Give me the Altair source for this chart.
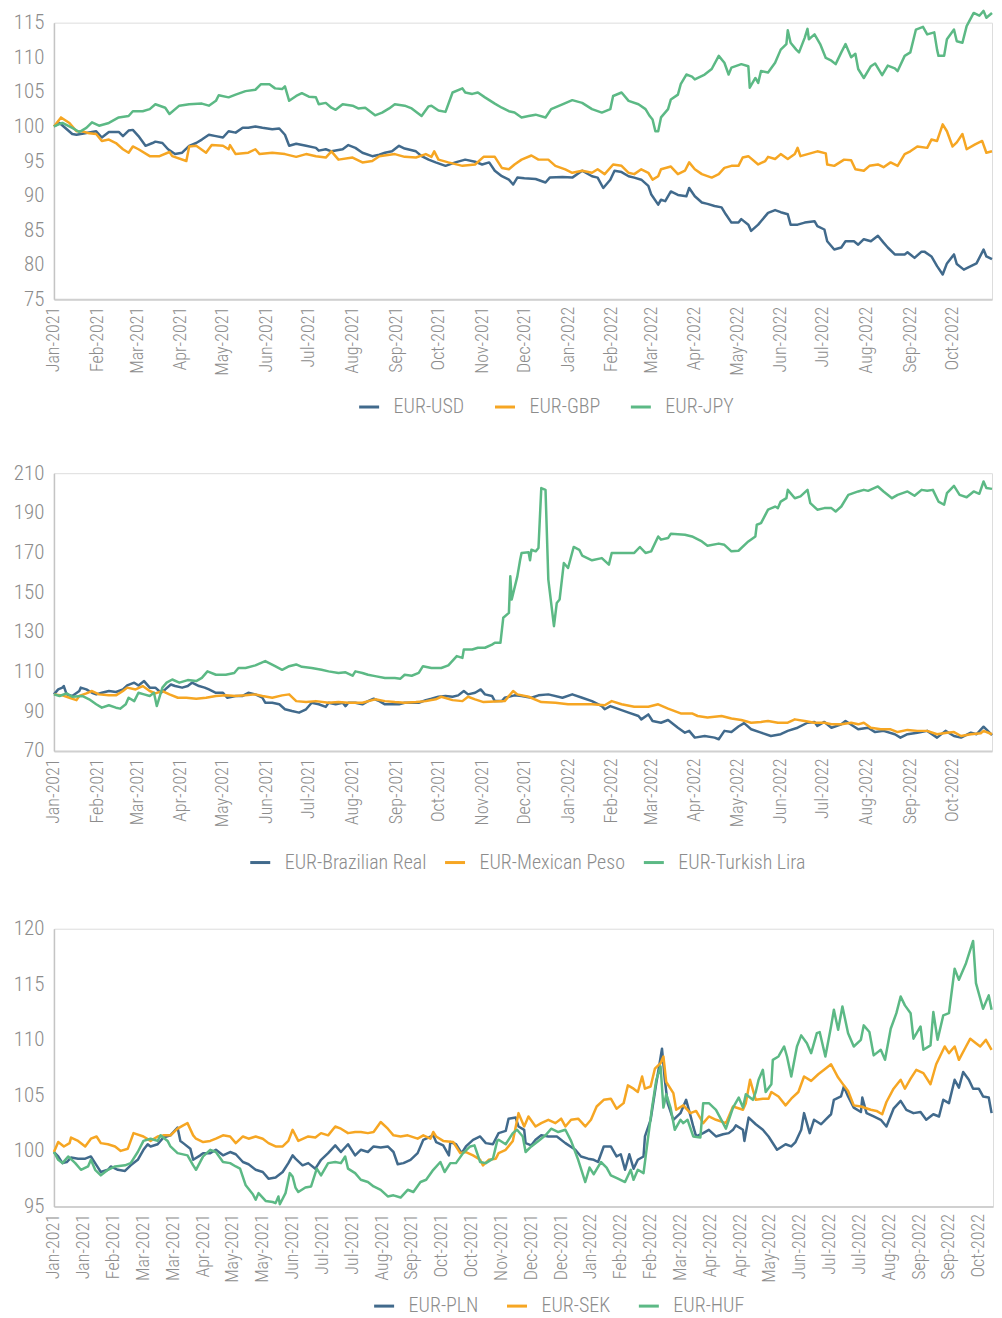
import altair as alt
import pandas as pd

# ---------------- data (day offset since 2021-01-01, index value) ----------------
BASE = "2021-01-01"

USD = [(0,100),(4,100.5),(13,98.9),(16,98.8),(30,99.3),(34,98.4),(39,99.2),(46,99.2),(49,98.6),(53,99.4),(56,99.5),(60,98.6),(65,97.2),(70,97.6),(72,97.8),(77,97.6),(81,96.7),(86,96.0),(91,96.2),(96,97.2),(101,97.6),(105,98.1),(110,98.8),(115,98.6),(120,98.4),(124,99.3),(129,99.1),(134,99.8),(138,99.8),(143,100.0),(148,99.8),(155,99.6),(160,99.7),(164,98.8),(167,97.2),(172,97.5),(179,97.2),(186,96.9),(188,96.5),(193,96.7),(197,96.4),(205,96.7),(209,97.3),(214,96.9),(219,96.2),(226,95.7),(231,95.9),(235,96.2),(240,96.4),(245,97.2),(249,96.8),(257,96.4),(261,95.7),(266,95.2),(271,94.8),(278,94.3),(285,94.8),(292,95.2),(299,94.9),(304,94.5),(309,94.8),(313,93.6),(318,92.8),(323,92.3),(326,91.6),(329,92.6),(334,92.5),(342,92.4),(349,91.9),(352,92.6),(361,92.7),(368,92.6),(375,93.6),(382,92.8),(386,92.6),(390,91.1),(395,92.3),(398,93.6),(403,93.4),(408,92.8),(412,92.6),(417,92.3),(422,91.4),(424,90.2),(429,88.7),(431,89.4),(434,89.2),(438,90.6),(443,90.1),(449,89.9),(451,91.1),(455,89.9),(460,89.0),(464,88.8),(469,88.5),(474,88.3),(477,87.3),(481,86.1),(486,86.1),(488,86.6),(493,85.8),(495,84.9),(500,85.8),(502,86.3),(507,87.5),(512,87.9),(516,87.6),(521,87.3),(523,85.8),(528,85.8),(533,86.1),(540,86.3),(542,85.6),(547,85.1),(549,83.4),(554,82.2),(559,82.5),(562,83.4),(568,83.4),(571,82.9),(575,83.7),(580,83.4),(585,84.2),(589,83.2),(592,82.5),(597,81.5),(604,81.5),(606,81.8),(611,81.0),(616,81.9),(618,81.9),(623,81.2),(627,79.8),(631,78.6),(634,80.2),(639,81.5),(641,80.1),(646,79.3),(651,79.8),(655,80.2),(660,82.2),(662,81.2),(666,80.8)]

GBP = [(0,100),(5,101.3),(11,100.5),(16,99.3),(20,99.3),(25,99.0),(30,98.9),(34,97.9),(39,98.1),(44,97.6),(49,96.7),(53,96.2),(56,97.1),(60,96.7),(68,95.7),(75,95.7),(82,96.3),(84,95.7),(94,95.0),(96,97.1),(101,97.2),(108,96.2),(112,97.3),(120,97.2),(124,96.7),(125,97.3),(129,96.0),(138,96.2),(143,96.7),(146,96.0),(155,96.2),(164,96.0),(172,95.6),(179,96.0),(186,95.7),(193,95.5),(197,96.4),(202,95.2),(212,95.5),(219,94.8),(226,95.0),(231,95.7),(242,96.0),(249,95.6),(257,95.5),(264,96.0),(268,95.6),(270,96.4),(273,95.2),(280,94.8),(290,94.3),(299,94.5),(305,95.6),(313,95.6),(318,94.0),(323,93.8),(327,94.5),(332,95.2),(339,95.8),(344,95.2),(351,95.2),(356,94.3),(363,93.8),(368,93.3),(375,93.6),(382,93.3),(386,93.8),(391,93.1),(397,94.5),(403,94.3),(408,93.3),(412,93.1),(417,93.8),(422,93.3),(425,92.3),(429,92.8),(431,93.8),(438,94.2),(443,93.1),(448,93.6),(451,94.8),(455,93.8),(460,93.1),(467,92.6),(472,93.1),(476,94.0),(481,94.3),(486,94.3),(489,95.5),(493,95.7),(500,94.5),(505,95.0),(507,95.6),(512,95.3),(516,96.0),(521,95.3),(526,96.0),(528,96.9),(530,95.7),(537,96.1),(542,96.4),(548,96.1),(549,94.5),(554,94.3),(561,95.2),(566,95.1),(569,93.8),(575,93.6),(579,94.3),(585,94.5),(589,94.1),(594,94.8),(599,94.3),(604,96.0),(608,96.4),(613,97.1),(620,96.9),(623,98.1),(627,97.9),(631,100.3),(634,99.3),(638,97.1),(641,97.7),(645,98.9),(648,96.7),(654,97.4),(659,97.9),(662,96.2),(666,96.4)]

JPY = [(0,100),(6,100.5),(13,99.8),(18,99.2),(23,99.8),(27,100.6),(32,100.1),(39,100.5),(46,101.3),(53,101.5),(56,102.2),(63,102.2),(68,102.5),(72,103.2),(79,102.7),(82,101.8),(89,103.0),(96,103.2),(105,103.3),(110,103.0),(115,103.7),(117,104.5),(124,104.2),(129,104.6),(136,105.1),(143,105.3),(147,106.1),(153,106.1),(157,105.5),(162,105.4),(164,105.8),(167,103.7),(172,104.4),(176,104.8),(181,104.3),(186,104.2),(188,103.2),(193,103.4),(197,102.7),(200,102.4),(205,103.2),(212,103.0),(216,102.6),(221,102.7),(228,101.6),(233,102.0),(238,102.6),(242,103.2),(249,103.0),(254,102.6),(261,101.5),(266,102.9),(268,103.0),(273,102.3),(278,102.1),(283,104.9),(290,105.5),(292,104.9),(297,104.7),(301,104.9),(306,104.2),(313,103.3),(318,102.7),(323,102.2),(327,102.0),(332,101.3),(337,101.5),(342,101.7),(349,101.3),(353,102.5),(361,103.2),(368,103.8),(375,103.4),(382,102.5),(389,102.0),(395,102.5),(397,104.4),(403,104.9),(408,103.7),(415,103.2),(420,102.5),(423,101.5),(425,101.0),(427,99.3),(429,99.3),(431,101.3),(436,102.5),(438,103.9),(443,104.6),(445,106.1),(449,107.5),(453,107.2),(455,106.8),(462,107.5),(467,108.3),(472,110.2),(476,109.2),(479,107.5),(481,108.5),(488,109.0),(493,108.7),(494,105.6),(498,107.0),(500,106.3),(502,108.0),(507,107.8),(512,109.2),(516,111.1),(520,111.9),(521,113.9),(523,112.1),(527,111.1),(529,110.7),(533,112.8),(535,114.1),(536,112.6),(540,113.3),(544,111.9),(548,109.9),(552,109.5),(555,109.0),(559,110.7),(562,111.9),(566,110.0),(569,110.5),(571,108.3),(575,107.0),(580,108.7),(583,109.1),(588,107.4),(592,108.8),(597,108.4),(599,108.0),(604,110.2),(608,110.7),(612,114.0),(617,114.4),(620,113.3),(625,113.6),(627,111.1),(628,110.2),(632,110.2),(634,112.6),(639,114.0),(641,112.3),(645,112.1),(648,114.5),(653,116.4),(657,116.0),(660,116.7),(662,115.7),(666,116.4)]

BRL = [(0,98.5),(3,101.0),(6,101.9),(7,102.7),(9,98.5),(13,97.7),(18,100.2),(19,101.9),(23,101.0),(27,99.3),(30,98.5),(34,99.3),(39,100.2),(44,99.7),(49,101.0),(52,103.0),(57,104.4),(60,103.0),(64,105.2),(68,101.9),(72,101.9),(76,99.3),(79,101.0),(83,103.5),(86,102.7),(91,101.9),(95,102.7),(98,104.4),(103,102.7),(107,101.9),(110,101.0),(115,99.3),(120,99.3),(123,96.8),(129,97.7),(134,97.7),(138,99.3),(143,98.5),(148,96.8),(150,94.3),(155,94.3),(160,93.5),(164,91.0),(169,90.1),(174,89.3),(179,91.0),(183,94.3),(188,93.5),(193,92.2),(195,94.3),(200,93.5),(205,94.3),(207,92.6),(209,94.3),(214,94.3),(219,93.5),(223,95.1),(227,96.3),(231,95.1),(235,93.5),(240,93.5),(245,93.5),(249,94.3),(254,94.3),(259,94.3),(264,95.6),(268,96.3),(273,97.3),(278,97.7),(283,97.3),(287,98.0),(291,100.2),(294,98.5),(299,99.3),(303,101.0),(306,98.5),(311,97.7),(313,95.1),(318,95.1),(320,96.8),(327,98.0),(332,97.7),(339,96.8),(344,98.0),(351,98.5),(361,96.8),(368,98.5),(375,96.8),(382,95.1),(389,92.6),(391,91.0),(395,92.6),(408,89.3),(415,87.6),(417,85.9),(422,88.4),(425,85.1),(431,84.2),(436,85.6),(443,81.7),(448,79.2),(451,80.1),(455,76.7),(462,77.5),(469,76.7),(472,75.9),(476,80.1),(481,79.5),(486,82.3),(490,84.0),(495,80.9),(502,79.2),(509,77.5),(516,78.4),(521,80.1),(528,81.7),(535,84.2),(540,84.6),(542,82.6),(547,84.6),(552,81.7),(559,83.4),(562,85.1),(571,80.9),(578,81.7),(583,79.5),(589,80.1),(597,78.4),(601,76.7),(606,78.4),(613,79.2),(620,80.1),(627,76.7),(633,80.1),(639,77.5),(644,76.7),(651,79.2),(655,78.4),(660,82.2),(666,77.9)]

MXN = [(0,98.5),(6,98.0),(11,96.8),(16,95.6),(18,97.7),(23,99.0),(27,100.2),(32,98.5),(39,98.0),(44,98.0),(49,100.2),(52,101.9),(58,101.0),(63,102.7),(68,100.2),(72,99.0),(77,100.2),(82,98.5),(88,96.8),(94,96.8),(101,96.3),(108,96.8),(115,97.7),(122,98.0),(129,97.7),(136,98.0),(143,98.5),(148,97.7),(155,96.8),(162,98.0),(167,98.5),(172,95.1),(179,94.6),(186,95.1),(195,94.3),(202,94.6),(209,94.3),(219,94.3),(228,96.0),(235,95.1),(242,94.6),(249,94.3),(257,94.6),(264,95.1),(271,96.0),(275,97.3),(283,95.6),(290,95.1),(294,97.3),(299,96.0),(305,94.6),(313,94.9),(320,95.1),(326,100.2),(329,98.5),(337,97.3),(346,94.6),(356,94.3),(365,93.5),(375,93.5),(382,93.5),(391,93.0),(396,95.1),(403,93.5),(412,92.3),(422,92.3),(429,93.5),(436,91.3),(445,88.9),(453,88.9),(457,87.6),(464,86.8),(474,87.6),(481,86.3),(488,85.6),(495,84.2),(502,84.6),(507,85.1),(514,84.2),(521,84.2),(526,85.9),(533,85.1),(540,84.2),(547,84.2),(552,83.4),(559,83.4),(566,84.2),(571,83.4),(575,84.2),(580,81.7),(587,80.9),(594,80.9),(599,79.5),(606,80.6),(613,80.1),(620,80.1),(627,78.4),(634,79.2),(639,79.5),(644,77.5),(651,78.4),(658,78.9),(660,80.1),(666,78.4)]

TRY = [(0,98.5),(4,97.7),(9,99.0),(13,97.3),(20,97.7),(25,96.0),(30,93.5),(34,91.8),(39,93.0),(44,91.8),(47,91.3),(51,93.5),(53,96.8),(57,95.1),(60,99.3),(64,98.5),(68,97.7),(71,99.3),(73,92.6),(77,101.9),(80,104.4),(84,106.0),(89,104.4),(95,105.7),(101,105.2),(105,106.8),(109,110.1),(115,108.4),(122,108.4),(128,109.3),(131,111.8),(136,111.8),(143,113.1),(150,115.3),(157,112.7),(162,110.9),(167,112.7),(172,113.6),(176,112.4),(183,111.8),(190,110.9),(195,110.1),(202,109.3),(207,109.6),(212,107.9),(214,110.1),(219,109.3),(223,108.4),(228,107.7),(235,106.8),(242,106.8),(246,106.4),(249,108.4),(254,107.9),(259,109.3),(262,112.7),(268,111.8),(275,111.8),(280,113.1),(286,117.8),(290,116.9),(291,121.1),(297,121.1),(301,122.0),(306,122.0),(311,123.6),(313,124.5),(317,124.5),(319,137.1),(323,139.6),(324,158.0),(325,146.3),(329,158.0),(331,166.4),(332,169.8),(337,170.1),(338,166.1),(339,171.4),(342,170.6),(344,172.3),(346,202.5),(349,201.6),(351,156.3),(355,132.9),(357,144.6),(359,146.3),(362,164.7),(365,162.2),(369,172.8),(373,171.4),(375,168.5),(382,166.1),(389,167.2),(394,163.9),(396,169.8),(403,169.8),(412,169.8),(416,172.8),(420,169.8),(424,170.6),(429,178.1),(431,176.5),(436,177.3),(438,179.5),(448,179.0),(453,178.1),(460,175.6),(464,173.4),(472,174.5),(476,173.9),(481,170.6),(486,170.9),(493,175.6),(498,178.1),(499,184.0),(502,184.8),(507,191.6),(512,193.2),(514,192.4),(516,195.7),(520,197.4),(521,201.6),(526,197.4),(530,198.3),(535,201.6),(537,194.9),(542,191.6),(547,192.4),(552,192.4),(555,190.7),(559,193.2),(564,199.1),(571,200.8),(575,201.6),(578,201.1),(585,203.3),(589,200.8),(595,197.4),(599,199.1),(606,200.8),(611,198.6),(616,201.6),(620,201.1),(624,201.6),(628,195.7),(632,194.1),(634,199.9),(639,203.6),(643,199.1),(648,197.9),(653,200.8),(657,199.6),(660,205.8),(662,202.5),(666,202.1)]

PLN = [(0,99.9),(3,99.5),(6,98.9),(9,99.0),(12,99.4),(17,99.3),(22,99.3),(26,99.5),(30,98.7),(33,98.1),(38,98.3),(40,98.6),(45,98.3),(50,98.2),(54,98.7),(59,99.2),(63,100.1),(66,100.6),(68,100.4),(73,100.6),(77,101.2),(82,101.4),(87,102.1),(89,100.9),(91,100.7),(96,100.2),(98,99.2),(103,99.6),(105,99.8),(110,99.8),(114,100.1),(119,99.6),(124,99.9),(128,99.7),(133,99.0),(137,98.8),(142,98.3),(147,98.1),(151,97.5),(156,97.6),(161,98.1),(165,98.9),(168,99.6),(170,99.3),(175,98.7),(179,98.9),(184,98.4),(188,99.2),(193,99.8),(198,100.5),(202,99.9),(207,100.6),(212,99.6),(216,100.1),(221,99.9),(225,100.4),(230,100.3),(235,100.4),(239,99.9),(242,98.8),(246,98.9),(251,99.2),(256,99.8),(260,101.0),(267,101.4),(269,100.8),(274,100.5),(278,99.6),(279,100.8),(283,100.6),(287,99.8),(290,100.4),(295,101.0),(300,101.3),(304,100.7),(309,100.6),(313,101.6),(318,101.8),(320,102.9),(325,103.0),(327,102.2),(331,101.9),(332,100.7),(336,100.5),(339,101.0),(343,101.4),(348,101.3),(354,101.3),(360,100.7),(367,100.1),(371,99.5),(376,99.3),(380,99.2),(383,99.0),(387,100.4),(392,100.4),(396,99.5),(399,99.7),(402,98.3),(405,99.7),(408,98.4),(411,99.2),(415,99.5),(416,101.3),(420,102.8),(424,106.1),(428,109.2),(430,106.4),(432,104.3),(436,102.8),(441,103.4),(445,104.6),(448,103.2),(450,102.2),(452,101.3),(457,101.6),(461,101.9),(466,101.3),(471,101.5),(475,101.6),(478,101.9),(480,102.3),(485,101.9),(486,100.9),(489,103.0),(494,102.4),(499,101.9),(503,101.3),(509,100.1),(515,100.6),(519,100.4),(522,100.8),(526,101.9),(528,103.4),(532,101.6),(535,102.8),(540,102.4),(543,102.8),(547,103.3),(549,104.6),(554,104.9),(556,105.8),(559,104.9),(563,103.9),(568,103.5),(569,104.8),(572,103.4),(577,103.1),(582,102.8),(586,102.2),(591,103.8),(596,104.5),(600,103.7),(605,103.4),(610,103.5),(614,102.8),(619,103.3),(623,103.1),(626,104.6),(630,104.3),(634,106.4),(637,105.7),(640,107.1),(644,106.4),(647,105.6),(651,105.6),(654,104.9),(658,104.8),(660,103.4)]

SEK = [(0,99.9),(3,100.8),(7,100.4),(11,100.7),(12,101.2),(17,100.9),(22,100.4),(26,101.1),(30,101.3),(33,100.7),(38,100.6),(43,100.4),(47,100.0),(52,100.2),(56,101.6),(63,101.3),(68,100.9),(73,101.3),(77,101.4),(82,101.4),(87,102.0),(91,102.3),(94,102.5),(98,101.4),(100,101.1),(105,100.8),(110,100.9),(114,101.1),(119,101.4),(124,101.3),(128,100.7),(133,101.3),(137,101.1),(142,101.3),(147,101.1),(151,100.7),(156,100.4),(161,100.4),(165,100.9),(168,101.9),(172,100.9),(179,101.3),(184,101.2),(188,101.6),(193,101.4),(198,102.2),(202,102.0),(207,101.6),(212,101.7),(216,101.7),(221,101.6),(225,101.7),(230,102.6),(235,102.0),(239,101.4),(244,101.3),(249,101.4),(256,101.1),(260,101.4),(265,101.1),(267,101.7),(269,101.3),(274,100.9),(281,100.8),(286,99.8),(290,99.9),(295,99.6),(300,99.2),(302,98.7),(306,99.2),(311,99.3),(313,99.8),(318,100.1),(323,100.9),(327,103.4),(331,102.2),(334,103.1),(339,102.2),(343,102.5),(348,102.8),(353,102.5),(357,102.9),(360,102.2),(364,102.8),(369,102.9),(374,102.2),(378,102.8),(382,104.0),(387,104.6),(392,104.7),(396,103.8),(401,104.3),(404,105.9),(408,105.6),(411,105.3),(414,106.7),(416,105.6),(420,105.8),(423,107.4),(427,107.9),(429,108.5),(431,106.2),(436,105.2),(438,103.7),(443,104.1),(448,103.4),(452,103.6),(457,102.5),(461,103.1),(466,102.8),(473,102.5),(478,104.0),(485,103.7),(487,104.3),(490,106.4),(494,104.6),(499,104.7),(503,104.7),(505,105.3),(510,104.9),(515,104.1),(519,104.7),(524,105.3),(528,106.7),(533,106.3),(538,106.9),(543,107.4),(547,107.8),(552,106.6),(556,105.9),(559,105.4),(563,104.1),(568,104.0),(575,103.7),(579,103.6),(583,103.3),(586,104.4),(591,105.6),(596,106.4),(599,105.6),(603,106.5),(607,107.3),(612,107.0),(617,106.0),(621,107.8),(627,109.4),(630,108.8),(634,109.4),(637,108.2),(642,109.4),(645,110.1),(649,109.7),(652,109.4),(656,110.0),(660,109.1)]

HUF = [(0,99.9),(3,99.2),(6,98.9),(10,99.5),(15,98.9),(19,98.3),(24,98.6),(26,99.2),(29,98.3),(33,97.8),(38,98.3),(43,98.6),(50,98.7),(54,98.9),(59,99.9),(63,100.9),(68,101.1),(73,100.9),(75,101.4),(80,100.9),(82,100.4),(87,99.8),(94,99.6),(98,98.7),(100,98.3),(105,99.5),(110,100.1),(114,99.9),(119,99.0),(124,98.9),(128,98.6),(131,98.4),(135,96.9),(140,96.1),(142,95.6),(144,96.2),(149,95.5),(154,95.4),(156,95.3),(158,95.9),(159,95.2),(163,96.2),(166,98.0),(168,97.7),(170,96.7),(172,96.3),(177,96.7),(181,96.8),(185,98.4),(188,97.8),(193,98.9),(198,99.0),(202,98.9),(205,99.5),(207,98.4),(212,98.0),(216,97.4),(221,97.2),(225,96.8),(230,96.5),(235,95.9),(239,96.0),(244,95.8),(249,96.5),(253,96.3),(258,97.2),(262,97.4),(267,98.3),(272,99.0),(275,98.1),(279,98.9),(283,98.9),(288,99.8),(293,100.4),(296,100.5),(300,99.0),(304,98.9),(309,99.3),(312,100.9),(313,101.0),(318,100.6),(323,101.6),(326,101.9),(330,101.3),(332,99.9),(336,100.4),(341,100.9),(346,101.4),(350,102.0),(355,101.7),(360,101.9),(364,100.9),(369,99.2),(374,97.2),(377,98.5),(380,97.9),(385,99.0),(389,98.5),(392,97.8),(397,97.5),(402,97.2),(406,98.3),(408,97.4),(411,98.3),(415,98.0),(418,101.0),(421,103.9),(424,106.4),(427,107.6),(429,103.9),(431,105.1),(434,103.9),(437,101.9),(441,102.8),(443,102.5),(446,102.8),(450,101.3),(455,101.2),(457,104.3),(461,104.3),(466,103.7),(471,102.5),(473,102.0),(478,103.9),(482,104.8),(485,103.9),(487,105.1),(492,104.6),(494,105.3),(496,106.4),(499,107.3),(501,105.3),(505,106.0),(506,108.2),(510,108.5),(514,109.4),(516,108.5),(519,106.7),(523,109.4),(526,110.4),(530,109.7),(533,108.8),(537,110.6),(539,110.7),(543,108.5),(547,111.2),(549,112.7),(552,110.9),(555,113.0),(559,110.6),(563,109.4),(568,110.0),(570,111.3),(574,110.7),(577,108.6),(582,109.1),(585,108.2),(589,111.0),(593,112.4),(596,113.9),(599,113.1),(603,112.4),(605,110.1),(610,111.2),(612,109.1),(617,109.5),(619,112.5),(622,110.0),(626,112.2),(630,112.4),(634,116.4),(637,115.4),(642,116.9),(647,118.9),(649,115.1),(654,112.8),(658,114.0),(660,112.7)]

# tick labels
MONTH_TICKS = ["2021-01-01","2021-02-01","2021-03-01","2021-04-01","2021-05-01","2021-06-01",
               "2021-07-01","2021-08-01","2021-09-01","2021-10-01","2021-11-01","2021-12-01",
               "2022-01-01","2022-02-01","2022-03-01","2022-04-01","2022-05-01","2022-06-01",
               "2022-07-01","2022-08-01","2022-09-01","2022-10-01"]
CAT_TICKS = ["2021-01-01","2021-01-22","2021-02-12","2021-03-05","2021-03-26","2021-04-16",
             "2021-05-07","2021-05-28","2021-06-18","2021-07-09","2021-07-30","2021-08-20",
             "2021-09-10","2021-10-01","2021-10-22","2021-11-12","2021-12-03","2021-12-24",
             "2022-01-14","2022-02-04","2022-02-25","2022-03-18","2022-04-08","2022-04-29",
             "2022-05-20","2022-06-10","2022-07-01","2022-07-22","2022-08-12","2022-09-02",
             "2022-09-23","2022-10-14"]

COLORS = ["#416a8c", "#f6a623", "#5cb985"]
FONT = "Roboto Condensed, DejaVu Sans Condensed, Liberation Sans, sans-serif"
LABEL_COLOR = "#8c8c8c"
EXTENT = 45


def dt(s):
    y, m, d = (int(p) for p in s.split("-"))
    return alt.DateTime(year=y, month=m, date=d)


def frame(series):
    rows = []
    base = pd.Timestamp(BASE)
    for name, pts in series:
        for d, v in pts:
            rows.append({"date": base + pd.Timedelta(days=d), "value": v, "series": name})
    return pd.DataFrame(rows)


def panel(series, ydom, ystep, end, ticks, w, h, lx, ly, colpad):
    names = [n for n, _ in series]
    yvals = list(range(ydom[0], ydom[1] + 1, ystep))
    return alt.Chart(frame(series)).mark_line(strokeWidth=2.5, strokeJoin="round").encode(
        x=alt.X("date:T", title=None,
                scale=alt.Scale(domain=[dt(BASE), dt(end)]),
                axis=alt.Axis(values=[dt(t) for t in ticks], format="%b-%Y", labelAngle=-90,
                              labelFont=FONT, labelFontSize=18, labelFontWeight=300,
                              labelColor=LABEL_COLOR,
                              labelPadding=7, labelFlush=False, labelOverlap=False,
                              ticks=False, grid=False, domainColor="#d0d0d0", domainWidth=2)),
        y=alt.Y("value:Q", title=None,
                scale=alt.Scale(domain=ydom, nice=False, zero=False),
                axis=alt.Axis(values=yvals, labelFont=FONT, labelFontSize=21, labelFontWeight=300,
                              labelColor=LABEL_COLOR,
                              labelPadding=10, ticks=False, grid=False,
                              minExtent=EXTENT, maxExtent=EXTENT,
                              domainColor="#c4c4c4", domainWidth=1.5)),
        color=alt.Color("series:N", sort=names,
                        scale=alt.Scale(domain=names, range=COLORS),
                        legend=alt.Legend(orient="none", legendX=lx, legendY=ly, direction="horizontal",
                                          title=None, symbolType="stroke", symbolStrokeWidth=3,
                                          symbolSize=400, labelFont=FONT, labelFontSize=20,
                                          labelFontWeight=300, padding=0,
                                          labelColor=LABEL_COLOR, labelOffset=13, labelLimit=400,
                                          columnPadding=colpad)),
    ).properties(width=w, height=h)


p1 = panel([("EUR-USD", USD), ("EUR-GBP", GBP), ("EUR-JPY", JPY)], [75, 115], 5,
           "2022-10-29", MONTH_TICKS, 939, 277, 304, 373, 24)
p2 = panel([("EUR-Brazilian Real", BRL), ("EUR-Mexican Peso", MXN), ("EUR-Turkish Lira", TRY)],
           [70, 210], 20, "2022-10-29", MONTH_TICKS, 939, 278, 195, 378, 12)
p3 = panel([("EUR-PLN", PLN), ("EUR-SEK", SEK), ("EUR-HUF", HUF)], [95, 120], 5,
           "2022-10-24", CAT_TICKS, 940, 278, 319, 366, 22)

chart = alt.vconcat(p1, p2, p3, spacing=43).resolve_scale(
    color="independent", x="independent", y="independent"
).properties(
    padding={"left": 0, "top": 0, "right": 0, "bottom": 0}
).configure_view(stroke=None).configure(background="white")

chart.save("out.html", embed_options={"renderer": "svg", "actions": False})
